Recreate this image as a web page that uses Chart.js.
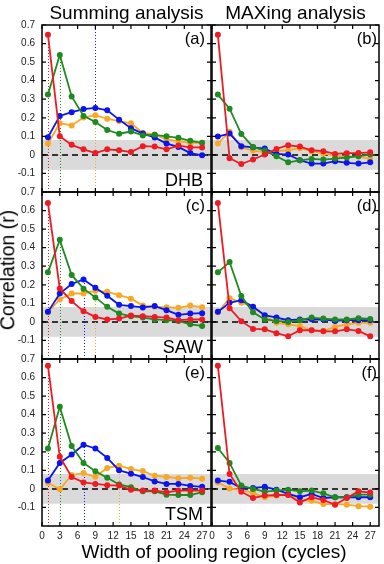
<!DOCTYPE html>
<html><head><meta charset="utf-8">
<script src="https://cdn.jsdelivr.net/npm/chart.js@4.4.1/dist/chart.umd.min.js"></script>
<style>
html,body{margin:0;padding:0;background:#fff}
body{width:384px;height:564px;position:relative;overflow:hidden;font-family:"Liberation Sans",Arial,Helvetica,sans-serif}
canvas{position:absolute;left:0;top:0}
.t{position:absolute;white-space:nowrap;color:#000;line-height:1}
</style></head><body>
<script>
// ---- data ----
const widths = [1,3,5,7,9,11,13,15,17,19,21,23,25,27];
const xTicks = [0,3,6,9,12,15,18,21,24,27];
const yTicks = [-0.1,0,0.1,0.2,0.3,0.4,0.5,0.6,0.7];
const stimNames = ['DHB','SAW','TSM'];
const panelLabels = ['(a)','(b)','(c)','(d)','(e)','(f)'];
const colTitles = ['Summing analysis','MAXing analysis'];

// (a) Summing, DHB
const aRed    = [0.648,0.100,0.054,0.030,0.010,0.030,0.025,0.015,0.047,0.045,0.030,0.050,0.040,0.040];
const aGreen  = [0.325,0.538,0.315,0.210,0.177,0.134,0.114,0.126,0.105,0.108,0.100,0.092,0.076,0.065];
const aBlue   = [0.095,0.210,0.230,0.247,0.253,0.240,0.190,0.144,0.115,0.094,0.061,0.043,0.010,-0.002];
const aOrange = [0.061,0.170,0.159,0.202,0.213,0.195,0.182,0.170,0.119,0.110,0.083,0.074,0.065,0.065];
// (b) MAXing, DHB
const bRed    = [0.648,-0.018,-0.049,-0.025,0.002,0.032,0.052,0.045,0.025,0.020,0.005,0.009,0.010,0.014];
const bGreen  = [0.325,0.249,0.112,0.043,0.023,-0.007,-0.040,-0.029,-0.022,-0.025,-0.020,-0.014,-0.007,0.002];
const bBlue   = [0.099,0.115,0.047,0.041,0.034,0.005,0.002,-0.029,-0.047,-0.047,-0.034,-0.043,-0.047,-0.040];
const bOrange = [0.061,0.125,0.041,0.023,0.014,0.020,0.025,0.036,0.020,0.007,-0.004,-0.011,-0.009,-0.022];
// (c) Summing, SAW
const cRed    = [0.641,0.180,0.112,0.058,0.027,0.013,0.018,0.034,0.031,0.027,0.023,0.009,0.013,0.013];
const cGreen  = [0.267,0.442,0.253,0.179,0.132,0.081,0.045,0.031,0.023,0.013,0.009,0.005,-0.013,-0.022];
const cBlue   = [0.054,0.153,0.204,0.229,0.184,0.141,0.092,0.085,0.078,0.085,0.063,0.038,0.045,0.047];
const cOrange = [0.052,0.121,0.153,0.153,0.168,0.162,0.144,0.125,0.088,0.081,0.079,0.076,0.088,0.079];
// (d) MAXing, SAW
const dRed    = [0.641,0.074,0.004,-0.038,-0.040,-0.061,-0.078,-0.045,-0.045,-0.051,-0.051,-0.040,-0.049,-0.078];
const dGreen  = [0.267,0.323,0.139,0.052,0.013,0.005,0.000,0.009,0.023,0.018,0.013,0.013,0.020,0.016];
const dBlue   = [0.054,0.103,0.117,0.081,0.036,0.023,0.009,0.013,0.014,0.013,0.005,0.009,0.009,0.009];
const dOrange = [0.052,0.128,0.103,0.081,0.032,-0.005,-0.013,-0.023,-0.045,-0.049,-0.027,-0.013,-0.005,-0.005];
// (e) Summing, TSM
const eRed    = [0.664,0.173,0.064,0.035,0.027,0.020,0.018,-0.005,-0.009,-0.009,-0.018,-0.009,-0.009,-0.009];
const eGreen  = [0.218,0.442,0.231,0.140,0.095,0.060,0.024,0.009,-0.013,-0.013,-0.031,-0.033,-0.033,-0.018];
const eBlue   = [0.045,0.140,0.185,0.238,0.218,0.167,0.100,0.082,0.064,0.040,0.027,0.027,0.016,0.011];
const eOrange = [0.033,-0.002,0.075,0.085,0.065,0.113,0.125,0.107,0.096,0.071,0.064,0.058,0.060,0.055];
// (f) MAXing, TSM
const fRed    = [0.664,0.080,-0.015,-0.049,-0.036,-0.033,-0.033,-0.073,-0.045,-0.060,-0.085,-0.049,-0.013,-0.020];
const fGreen  = [0.220,0.140,0.018,0.000,-0.015,-0.009,-0.004,-0.013,-0.009,-0.024,-0.045,-0.045,-0.031,-0.031];
const fBlue   = [0.045,0.038,0.004,0.005,0.011,-0.004,-0.027,-0.045,-0.027,-0.049,-0.045,-0.045,-0.045,-0.045];
const fOrange = [0.035,0.002,-0.005,-0.022,-0.045,-0.036,-0.031,-0.060,-0.064,-0.082,-0.082,-0.085,-0.093,-0.096];

const bandLo = -0.08, bandHi = 0.08;

// ---- styling / layout ----
const COLORS = {red:'#ec1c24', green:'#1f8a1f', blue:'#0c14ee', orange:'#f8a824'};
const W = 384, H = 564, YW = 30, XH = 20;
const cols = [{l:42, r:211}, {l:212, r:379}];
const rows = [{t:25, b:192}, {t:192, b:359}, {t:359, b:526}];
const FONT = '"Liberation Sans", Arial, Helvetica, sans-serif';

const panels = [
  {d:[aRed,aGreen,aBlue,aOrange], c:0, r:0, peaks:true, full:['blue']},
  {d:[bRed,bGreen,bBlue,bOrange], c:1, r:0},
  {d:[cRed,cGreen,cBlue,cOrange], c:0, r:1, peaks:true},
  {d:[dRed,dGreen,dBlue,dOrange], c:1, r:1},
  {d:[eRed,eGreen,eBlue,eOrange], c:0, r:2, peaks:true},
  {d:[fRed,fGreen,fBlue,fOrange], c:1, r:2},
];
const keys = ['red','green','blue','orange'];

const deco = {
  id:'deco',
  beforeDatasetsDraw(chart, args, opts){
    const {ctx, chartArea:a, scales:{x,y}} = chart;
    ctx.save();
    const y1 = y.getPixelForValue(bandHi), y2 = y.getPixelForValue(bandLo);
    ctx.fillStyle = '#dadada';
    ctx.fillRect(a.left, y1, a.right-a.left, y2-y1);
    const y0 = y.getPixelForValue(0);
    ctx.strokeStyle = '#000'; ctx.lineWidth = 1.5; ctx.setLineDash([6,4]);
    ctx.beginPath(); ctx.moveTo(a.left, y0); ctx.lineTo(a.right, y0); ctx.stroke();
    if (opts.peaks){
      ctx.lineWidth = 1; ctx.setLineDash([1,2]);
      chart.data.datasets.forEach(ds=>{
        let best = ds.data[0];
        ds.data.forEach(p=>{ if (p.y > best.y) best = p; });
        const px = Math.round(x.getPixelForValue(best.x)) + 0.5;
        const top = (opts.full||[]).includes(ds.key) ? a.top : y.getPixelForValue(best.y);
        ctx.strokeStyle = ds.borderColor;
        ctx.beginPath(); ctx.moveTo(px, a.bottom); ctx.lineTo(px, top); ctx.stroke();
      });
    }
    ctx.restore();
  },
  afterDraw(chart){
    const {ctx, chartArea:a, scales:{x,y}} = chart;
    ctx.save();
    ctx.setLineDash([]); ctx.strokeStyle = '#000'; ctx.lineWidth = 1.5;
    ctx.strokeRect(a.left, a.top, a.right-a.left, a.bottom-a.top);
    ctx.lineWidth = 1.2;
    ctx.beginPath();
    xTicks.forEach(v=>{ const px = x.getPixelForValue(v);
      ctx.moveTo(px, a.bottom); ctx.lineTo(px, a.bottom-4);
      ctx.moveTo(px, a.top); ctx.lineTo(px, a.top+4); });
    yTicks.forEach(v=>{ const py = y.getPixelForValue(v);
      ctx.moveTo(a.left, py); ctx.lineTo(a.left+4, py);
      ctx.moveTo(a.right, py); ctx.lineTo(a.right-4, py); });
    ctx.stroke();
    ctx.restore();
  }
};

const fmt = v => { const r = Math.round(v*10)/10; return r === 0 ? '0' : String(r); };

panels.forEach((p, i)=>{
  const cv = document.createElement('canvas');
  cv.width = W; cv.height = H; cv.style.width = W+'px'; cv.style.height = H+'px';
  document.body.appendChild(cv);
  const col = cols[p.c], row = rows[p.r];
  const showY = p.c === 0, showX = p.r === 2;
  new Chart(cv, {
    type:'line',
    data:{ datasets: p.d.map((arr, k)=>({
      key: keys[k],
      data: widths.map((w, j)=>({x:w, y:arr[j]})),
      borderColor: COLORS[keys[k]], backgroundColor: COLORS[keys[k]],
      pointBackgroundColor: COLORS[keys[k]], pointBorderColor: COLORS[keys[k]],
      borderWidth: 1.8, pointRadius: 3, pointBorderWidth: 0, tension: 0, fill:false
    }))},
    options:{
      responsive:false, animation:false, devicePixelRatio:1,
      events: [],
      layout:{padding:{left: col.l - YW, right: W - col.r, top: row.t, bottom: H - row.b - XH}},
      plugins:{legend:{display:false}, tooltip:{enabled:false}, title:{display:false},
        deco:{peaks: !!p.peaks, full: p.full || []}},
      scales:{
        x:{type:'linear', min:0, max:28.5, grid:{display:false, drawTicks:false, tickLength:0}, border:{display:false},
          afterBuildTicks(s){ s.ticks = xTicks.map(v=>({value:v})); },
          afterFit(s){ s.height = XH; s.paddingLeft = 0; s.paddingRight = 0; s.paddingTop = 0; s.paddingBottom = 0; },
          ticks:{display: showX, autoSkip:false, maxRotation:0, minRotation:0, padding:4,
            color:'#222', font:{family:FONT, size:10}}},
        y:{type:'linear', min:-0.2, max:0.7, grid:{display:false, drawTicks:false, tickLength:0}, border:{display:false},
          afterBuildTicks(s){ s.ticks = yTicks.map(v=>({value:v})); },
          afterFit(s){ s.width = YW; s.paddingTop = 0; s.paddingBottom = 0; s.paddingLeft = 0; s.paddingRight = 0; },
          ticks:{display: showY, autoSkip:false, padding:7, callback: v => fmt(v),
            color:'#222', font:{family:FONT, size:10}}}
      }
    },
    plugins:[deco]
  });
});

// ---- HTML text ----
function addText(txt, css){
  const d = document.createElement('div'); d.className = 't'; d.textContent = txt;
  Object.assign(d.style, css); document.body.appendChild(d); return d;
}
// column titles (baseline ~19.3)
colTitles.forEach((t, c)=>{
  const cx = (cols[c].l + cols[c].r)/2;
  addText(t, {fontSize:'19px', left: cx+'px', top: (19.3 - 0.8465*19)+'px', transform:'translateX(-50%)'});
});
// panel labels
panelLabels.forEach((t, i)=>{
  const c = i % 2, r = Math.floor(i/2);
  const right = c === 0 ? 205 : 377;
  const base = rows[r].t + 18.5;
  addText(t, {fontSize:'16.5px', right: (W - right)+'px', top: (base - 0.8465*16.5)+'px'});
});
// stimulus labels
stimNames.forEach((t, r)=>{
  const base = rows[r].b - 5.5;
  addText(t, {fontSize:'18px', right: (W - 203)+'px', top: (base - 0.8465*18)+'px'});
});
// axis titles
addText('Width of pooling region (cycles)', {fontSize:'19px', left:'214px', top:(557.7 - 0.8465*19)+'px', transform:'translateX(-50%)'});
addText('Correlation (r)', {fontSize:'19.5px', left:'8px', top:'270px', transform:'translate(-50%,-50%) rotate(-90deg)'});
</script>
</body></html>
